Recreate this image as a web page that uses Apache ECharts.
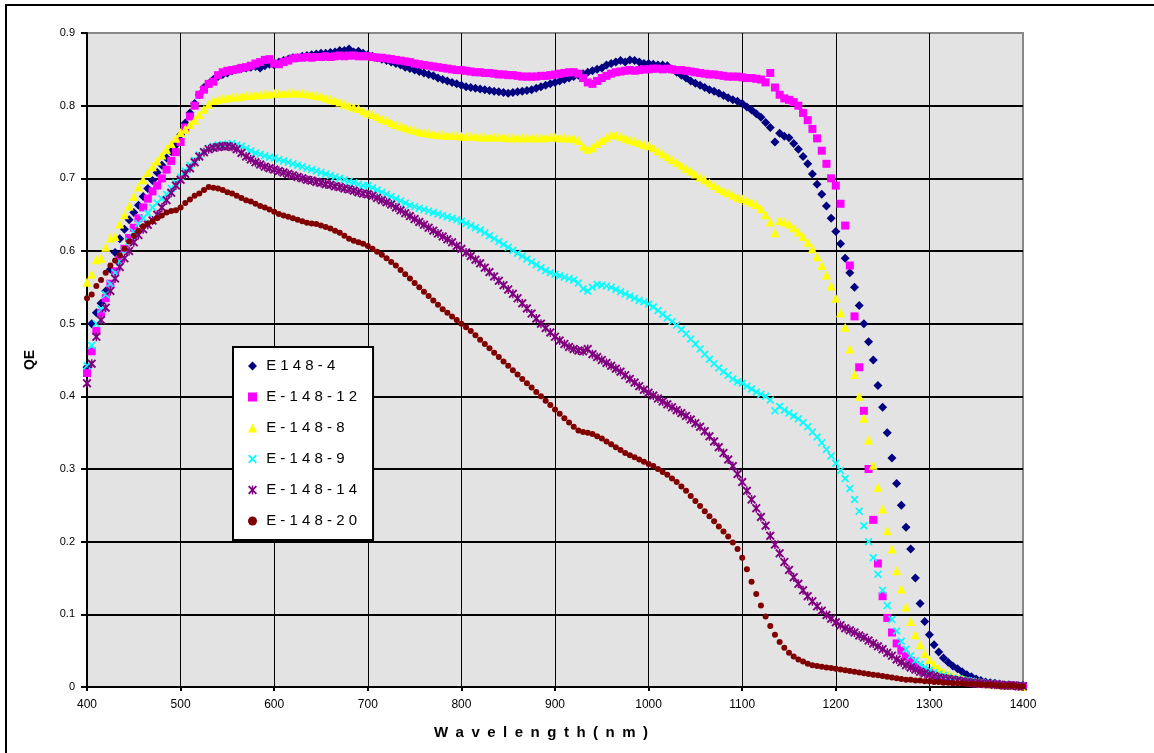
<!DOCTYPE html>
<html>
<head>
<meta charset="utf-8">
<title>QE vs Wavelength</title>
<script src="https://cdn.jsdelivr.net/npm/echarts@6/dist/echarts.min.js"></script>
<style>
html, body { margin: 0; padding: 0; background: #fff; }
#chartsObj_QE { width: 1154px; height: 753px; }
</style>
</head>
<body>
<div id="chartsObj_QE"></div>
<script>
// x sample points (nm), shared by every curve
var wavelength = [
    400,405,410,415,420,425,430,435,440,445,450,455,460,465,470,475,480,485,490,495,
    500,505,510,515,520,525,530,535,540,545,550,555,560,565,570,575,580,585,590,595,
    600,605,610,615,620,625,630,635,640,645,650,655,660,665,670,675,680,685,690,695,
    700,705,710,715,720,725,730,735,740,745,750,755,760,765,770,775,780,785,790,795,
    800,805,810,815,820,825,830,835,840,845,850,855,860,865,870,875,880,885,890,895,
    900,905,910,915,920,925,930,935,940,945,950,955,960,965,970,975,980,985,990,995,
    1000,1005,1010,1015,1020,1025,1030,1035,1040,1045,1050,1055,1060,1065,1070,1075,1080,1085,1090,1095,
    1100,1105,1110,1115,1120,1125,1130,1135,1140,1145,1150,1155,1160,1165,1170,1175,1180,1185,1190,1195,
    1200,1205,1210,1215,1220,1225,1230,1235,1240,1245,1250,1255,1260,1265,1270,1275,1280,1285,1290,1295,
    1300,1305,1310,1315,1320,1325,1330,1335,1340,1345,1350,1355,1360,1365,1370,1375,1380,1385,1390,1395,
    1400
];

var qe_E148_4 = [
    0.440,0.500,0.515,0.528,0.545,0.575,0.598,0.617,0.630,0.643,0.653,0.663,0.675,0.686,0.697,0.708,0.718,0.728,0.737,0.746,
    0.760,0.776,0.790,0.803,0.815,0.825,0.830,0.836,0.840,0.843,0.845,0.848,0.850,0.851,0.852,0.853,0.854,0.852,0.855,0.857,
    0.856,0.860,0.862,0.864,0.866,0.866,0.868,0.869,0.870,0.871,0.872,0.872,0.873,0.874,0.876,0.876,0.878,0.874,0.875,0.872,
    0.870,0.868,0.866,0.864,0.862,0.860,0.858,0.856,0.853,0.851,0.849,0.847,0.845,0.843,0.841,0.838,0.836,0.834,0.832,0.830,
    0.828,0.826,0.825,0.824,0.823,0.822,0.821,0.820,0.819,0.818,0.817,0.818,0.819,0.820,0.821,0.822,0.824,0.826,0.828,0.830,
    0.832,0.834,0.836,0.838,0.840,0.842,0.844,0.846,0.848,0.850,0.852,0.856,0.858,0.860,0.862,0.860,0.863,0.862,0.860,0.858,
    0.858,0.857,0.856,0.856,0.855,0.850,0.846,0.842,0.838,0.834,0.831,0.828,0.825,0.822,0.820,0.817,0.814,0.811,0.808,0.806,
    0.803,0.798,0.794,0.789,0.784,0.777,0.770,0.750,0.762,0.758,0.756,0.748,0.740,0.730,0.720,0.706,0.692,0.678,0.662,0.645,
    0.627,0.610,0.590,0.570,0.550,0.525,0.500,0.475,0.450,0.415,0.385,0.350,0.315,0.280,0.250,0.220,0.190,0.150,0.115,0.090,
    0.072,0.058,0.048,0.040,0.034,0.029,0.025,0.021,0.017,0.014,0.011,0.009,0.007,0.006,0.005,0.004,0.003,0.003,0.002,0.002,
    0.002
];

var qe_E148_12 = [
    0.432,0.462,0.490,0.515,0.535,0.555,0.572,0.588,0.603,0.618,0.632,0.645,0.660,0.672,0.682,0.690,0.700,0.712,0.724,0.736,
    0.750,0.770,0.785,0.800,0.815,0.822,0.830,0.833,0.842,0.846,0.848,0.849,0.850,0.852,0.853,0.855,0.858,0.860,0.863,0.864,
    0.858,0.857,0.860,0.862,0.865,0.866,0.866,0.867,0.866,0.867,0.867,0.868,0.867,0.868,0.869,0.868,0.869,0.869,0.868,0.868,
    0.868,0.867,0.866,0.866,0.865,0.864,0.863,0.862,0.861,0.860,0.858,0.857,0.856,0.855,0.854,0.853,0.852,0.851,0.850,0.849,
    0.849,0.848,0.847,0.846,0.846,0.845,0.845,0.844,0.843,0.843,0.842,0.842,0.841,0.840,0.840,0.840,0.840,0.841,0.841,0.842,
    0.843,0.844,0.845,0.846,0.846,0.844,0.838,0.832,0.830,0.834,0.838,0.841,0.844,0.846,0.847,0.848,0.849,0.848,0.849,0.850,
    0.850,0.851,0.851,0.850,0.851,0.850,0.849,0.849,0.848,0.847,0.846,0.845,0.844,0.843,0.843,0.842,0.841,0.840,0.840,0.840,
    0.839,0.838,0.838,0.837,0.836,0.832,0.845,0.825,0.815,0.810,0.808,0.805,0.800,0.790,0.780,0.768,0.755,0.738,0.720,0.700,
    0.690,0.665,0.635,0.580,0.510,0.440,0.380,0.300,0.230,0.170,0.125,0.095,0.075,0.060,0.050,0.042,0.036,0.030,0.026,0.022,
    0.019,0.017,0.015,0.013,0.011,0.010,0.009,0.008,0.007,0.006,0.005,0.005,0.004,0.004,0.003,0.003,0.002,0.002,0.002,0.001,
    0.001
];

var qe_E148_8 = [
    0.557,0.568,0.588,0.590,0.605,0.618,0.620,0.637,0.650,0.662,0.675,0.688,0.698,0.708,0.716,0.724,0.732,0.740,0.748,0.755,
    0.763,0.768,0.774,0.780,0.788,0.795,0.802,0.807,0.808,0.810,0.811,0.812,0.812,0.813,0.814,0.814,0.815,0.815,0.816,0.816,
    0.817,0.817,0.817,0.817,0.818,0.817,0.817,0.816,0.815,0.814,0.813,0.811,0.809,0.807,0.805,0.802,0.800,0.798,0.796,0.793,
    0.790,0.788,0.785,0.782,0.780,0.777,0.774,0.772,0.770,0.768,0.766,0.764,0.763,0.762,0.761,0.760,0.760,0.759,0.759,0.759,
    0.758,0.758,0.758,0.758,0.757,0.757,0.757,0.757,0.757,0.757,0.756,0.756,0.756,0.756,0.756,0.756,0.756,0.756,0.756,0.757,
    0.757,0.756,0.756,0.755,0.755,0.752,0.744,0.740,0.742,0.748,0.752,0.756,0.760,0.760,0.758,0.755,0.753,0.751,0.749,0.747,
    0.745,0.742,0.738,0.734,0.730,0.726,0.722,0.718,0.714,0.710,0.706,0.702,0.698,0.694,0.690,0.686,0.683,0.680,0.677,0.674,
    0.672,0.670,0.667,0.664,0.658,0.650,0.640,0.625,0.642,0.640,0.637,0.632,0.626,0.620,0.612,0.603,0.592,0.580,0.567,0.552,
    0.535,0.515,0.495,0.465,0.430,0.400,0.370,0.340,0.305,0.275,0.245,0.215,0.190,0.160,0.135,0.110,0.090,0.072,0.058,0.046,
    0.038,0.031,0.025,0.021,0.018,0.015,0.013,0.011,0.009,0.008,0.007,0.006,0.005,0.004,0.004,0.003,0.003,0.002,0.002,0.002,
    0.001
];

var qe_E148_9 = [
    0.442,0.470,0.500,0.520,0.540,0.555,0.570,0.585,0.600,0.613,0.626,0.638,0.645,0.652,0.660,0.666,0.672,0.678,0.686,0.694,
    0.702,0.710,0.718,0.725,0.732,0.737,0.741,0.744,0.746,0.747,0.747,0.748,0.746,0.744,0.741,0.738,0.735,0.733,0.731,0.729,
    0.728,0.726,0.724,0.722,0.720,0.718,0.716,0.714,0.712,0.710,0.708,0.706,0.704,0.702,0.700,0.698,0.696,0.694,0.692,0.690,
    0.690,0.687,0.684,0.681,0.678,0.675,0.672,0.669,0.666,0.663,0.661,0.659,0.657,0.655,0.653,0.651,0.649,0.647,0.645,0.643,
    0.641,0.638,0.635,0.632,0.629,0.625,0.621,0.617,0.613,0.609,0.605,0.601,0.597,0.593,0.589,0.585,0.581,0.577,0.573,0.570,
    0.568,0.566,0.564,0.562,0.560,0.556,0.548,0.545,0.550,0.554,0.553,0.552,0.550,0.547,0.544,0.541,0.538,0.535,0.532,0.530,
    0.527,0.523,0.518,0.513,0.508,0.503,0.498,0.492,0.486,0.479,0.472,0.465,0.458,0.451,0.445,0.439,0.434,0.429,0.424,0.420,
    0.418,0.414,0.410,0.406,0.403,0.400,0.395,0.380,0.386,0.381,0.377,0.373,0.369,0.364,0.358,0.351,0.344,0.336,0.327,0.318,
    0.308,0.298,0.287,0.273,0.258,0.242,0.222,0.200,0.178,0.155,0.133,0.112,0.093,0.077,0.063,0.052,0.043,0.036,0.031,0.027,
    0.023,0.020,0.018,0.016,0.014,0.012,0.011,0.010,0.009,0.008,0.007,0.006,0.005,0.005,0.004,0.003,0.003,0.002,0.002,0.002,
    0.001
];

var qe_E148_14 = [
    0.418,0.445,0.482,0.505,0.522,0.545,0.562,0.578,0.590,0.600,0.612,0.622,0.630,0.636,0.642,0.650,0.660,0.670,0.680,0.690,
    0.698,0.706,0.714,0.722,0.730,0.736,0.740,0.742,0.743,0.744,0.744,0.743,0.740,0.735,0.730,0.726,0.722,0.719,0.716,0.714,
    0.712,0.710,0.708,0.706,0.704,0.702,0.700,0.698,0.697,0.695,0.694,0.692,0.691,0.689,0.688,0.686,0.685,0.683,0.681,0.679,
    0.678,0.676,0.673,0.670,0.667,0.664,0.660,0.656,0.652,0.648,0.644,0.640,0.636,0.632,0.628,0.624,0.620,0.616,0.612,0.607,
    0.603,0.598,0.593,0.588,0.583,0.577,0.571,0.565,0.559,0.553,0.547,0.541,0.535,0.528,0.521,0.514,0.507,0.500,0.494,0.488,
    0.482,0.477,0.472,0.468,0.465,0.463,0.462,0.465,0.458,0.454,0.450,0.446,0.442,0.438,0.434,0.429,0.424,0.419,0.414,0.409,
    0.405,0.401,0.397,0.393,0.389,0.385,0.381,0.377,0.373,0.368,0.363,0.358,0.352,0.345,0.338,0.330,0.322,0.313,0.304,0.293,
    0.282,0.270,0.258,0.246,0.234,0.222,0.208,0.196,0.184,0.172,0.161,0.151,0.142,0.133,0.125,0.118,0.111,0.105,0.099,0.094,
    0.089,0.085,0.081,0.078,0.075,0.071,0.068,0.064,0.060,0.056,0.052,0.047,0.043,0.038,0.034,0.030,0.027,0.024,0.021,0.019,
    0.017,0.015,0.013,0.012,0.011,0.010,0.009,0.008,0.007,0.006,0.005,0.005,0.004,0.004,0.003,0.003,0.002,0.002,0.002,0.001,
    0.001
];

var qe_E148_20 = [
    0.535,0.540,0.552,0.560,0.570,0.580,0.587,0.594,0.603,0.613,0.621,0.628,0.634,0.638,0.641,0.645,0.649,0.653,0.655,0.656,
    0.660,0.666,0.671,0.676,0.679,0.684,0.688,0.687,0.686,0.684,0.681,0.679,0.676,0.673,0.670,0.668,0.665,0.662,0.660,0.657,
    0.654,0.651,0.649,0.647,0.645,0.643,0.641,0.639,0.638,0.637,0.635,0.633,0.631,0.628,0.625,0.621,0.617,0.614,0.612,0.610,
    0.607,0.603,0.599,0.595,0.590,0.585,0.580,0.574,0.568,0.562,0.556,0.550,0.544,0.538,0.532,0.526,0.520,0.515,0.510,0.505,
    0.500,0.495,0.490,0.484,0.478,0.472,0.466,0.460,0.454,0.448,0.442,0.436,0.430,0.424,0.418,0.412,0.406,0.400,0.394,0.388,
    0.382,0.376,0.370,0.364,0.358,0.353,0.351,0.350,0.348,0.345,0.342,0.338,0.334,0.330,0.326,0.322,0.319,0.316,0.313,0.310,
    0.307,0.304,0.300,0.296,0.292,0.287,0.282,0.276,0.270,0.263,0.256,0.249,0.242,0.235,0.228,0.221,0.214,0.207,0.199,0.190,
    0.178,0.162,0.145,0.128,0.112,0.097,0.084,0.072,0.062,0.054,0.047,0.042,0.038,0.035,0.032,0.030,0.029,0.028,0.027,0.026,
    0.025,0.024,0.023,0.022,0.021,0.020,0.019,0.018,0.017,0.016,0.015,0.014,0.013,0.012,0.011,0.010,0.010,0.009,0.009,0.008,
    0.008,0.007,0.007,0.006,0.006,0.005,0.005,0.005,0.004,0.004,0.004,0.003,0.003,0.003,0.003,0.002,0.002,0.002,0.002,0.001,
    0.001
];

var xTicks = { min: 400, max: 1400, step: 100 };
var yTicks = { min: 0, max: 0.9, step: 0.1 };

var fontName = "'Liberation Sans', Arial, sans-serif";

// excel style marker shapes that echarts has no builtin for
var crossPath = 'M0,1.5L1.5,0L5,3.5L8.5,0L10,1.5L6.5,5L10,8.5L8.5,10L5,6.5L1.5,10L0,8.5L3.5,5Z';
var barPath = 'M4.2,0L5.8,0L5.8,10L4.2,10Z';

function toPoints(vals) {
    return wavelength.map(function (w, i) { return [w, vals[i]]; });
}

function spaced(txt) {
    return ' ' + txt.split('').join(' ');
}

var seriesList = [
    { name: 'E148-4',    vals: qe_E148_4,  color: '#000080', symbol: 'diamond', size: 9 },
    { name: 'E-148-12',  vals: qe_E148_12, color: '#FF00FF', symbol: 'rect', size: 8 },
    { name: 'E-148-8',   vals: qe_E148_8,  color: '#FFFF00', symbol: 'triangle', size: 9 },
    { name: 'E-148-9',   vals: qe_E148_9,  color: '#00FFFF', symbol: 'path://' + crossPath, size: 8 },
    { name: 'E-148-14',  vals: qe_E148_14, color: '#800080', symbol: 'path://' + crossPath + barPath, size: 9 },
    { name: 'E-148-20',  vals: qe_E148_20, color: '#800000', symbol: 'circle', size: 6 }
];

var chart = echarts.init(document.getElementById('chartsObj_QE'), null, { renderer: 'canvas' });

var option = {
    animation: false,
    backgroundColor: '#ffffff',
    textStyle: { fontFamily: fontName },
    graphic: [
        {
            type: 'rect',
            shape: { x: 6, y: 5, width: 1200, height: 800 },
            style: { fill: 'none', stroke: '#000', lineWidth: 2 },
            silent: true
        }
    ],
    grid: {
        left: 87, right: 131, top: 33, bottom: 66,
        show: true,
        backgroundColor: '#E3E3E3',
        borderColor: '#888888',
        borderWidth: 2
    },
    legend: {
        orient: 'vertical',
        left: 233,
        top: 347,
        padding: [11, 16, 11, 15],
        backgroundColor: '#ffffff',
        borderColor: '#000000',
        borderWidth: 2,
        itemWidth: 9,
        itemHeight: 9,
        itemGap: 15,
        data: seriesList.map(function (s) { return s.name; }),
        formatter: function (name) { return spaced(name); },
        textStyle: { fontSize: 15, color: '#000', lineHeight: 16, fontFamily: fontName }
    },
    xAxis: {
        type: 'value',
        min: xTicks.min,
        max: xTicks.max,
        interval: xTicks.step,
        name: 'W\u2002a\u2002v\u2002e\u2002l\u2002e\u2002n\u2002g\u2002t\u2002h\u2002(\u2002n\u2002m\u2002)',
        nameLocation: 'middle',
        nameGap: 38,
        nameTextStyle: { fontSize: 15, fontWeight: 'bold', color: '#000', fontFamily: fontName, padding: [0, 28, 0, 0] },
        axisLine: { lineStyle: { color: '#000', width: 2 } },
        axisTick: { show: true, length: 4, lineStyle: { color: '#000', width: 2 } },
        axisLabel: {
            color: '#000', fontSize: 12, margin: 12, fontFamily: fontName,
            formatter: function (v) { return String(v); }
        },
        splitLine: { show: true, showMinLine: false, showMaxLine: false, lineStyle: { color: '#000', width: 1 } }
    },
    yAxis: {
        type: 'value',
        min: yTicks.min,
        max: yTicks.max,
        interval: yTicks.step,
        name: 'QE',
        nameLocation: 'middle',
        nameGap: 50,
        nameTextStyle: { fontSize: 14, fontWeight: 'bold', color: '#000', fontFamily: fontName },
        axisLine: { lineStyle: { color: '#000', width: 2 } },
        axisTick: { show: true, length: 6, lineStyle: { color: '#000', width: 2 } },
        axisLabel: {
            color: '#000', fontSize: 11, margin: 12, fontFamily: fontName,
            formatter: function (v) { return v === 0 ? '0' : v.toFixed(1); }
        },
        splitLine: { show: true, showMinLine: false, showMaxLine: false, lineStyle: { color: '#000', width: 2 } }
    },
    series: seriesList.map(function (s) {
        return {
            name: s.name,
            type: 'scatter',
            symbol: s.symbol,
            symbolSize: s.size,
            itemStyle: { color: s.color, opacity: 1 },
            emphasis: { disabled: true },
            data: toPoints(s.vals)
        };
    })
};

chart.setOption(option);
</script>
</body>
</html>
